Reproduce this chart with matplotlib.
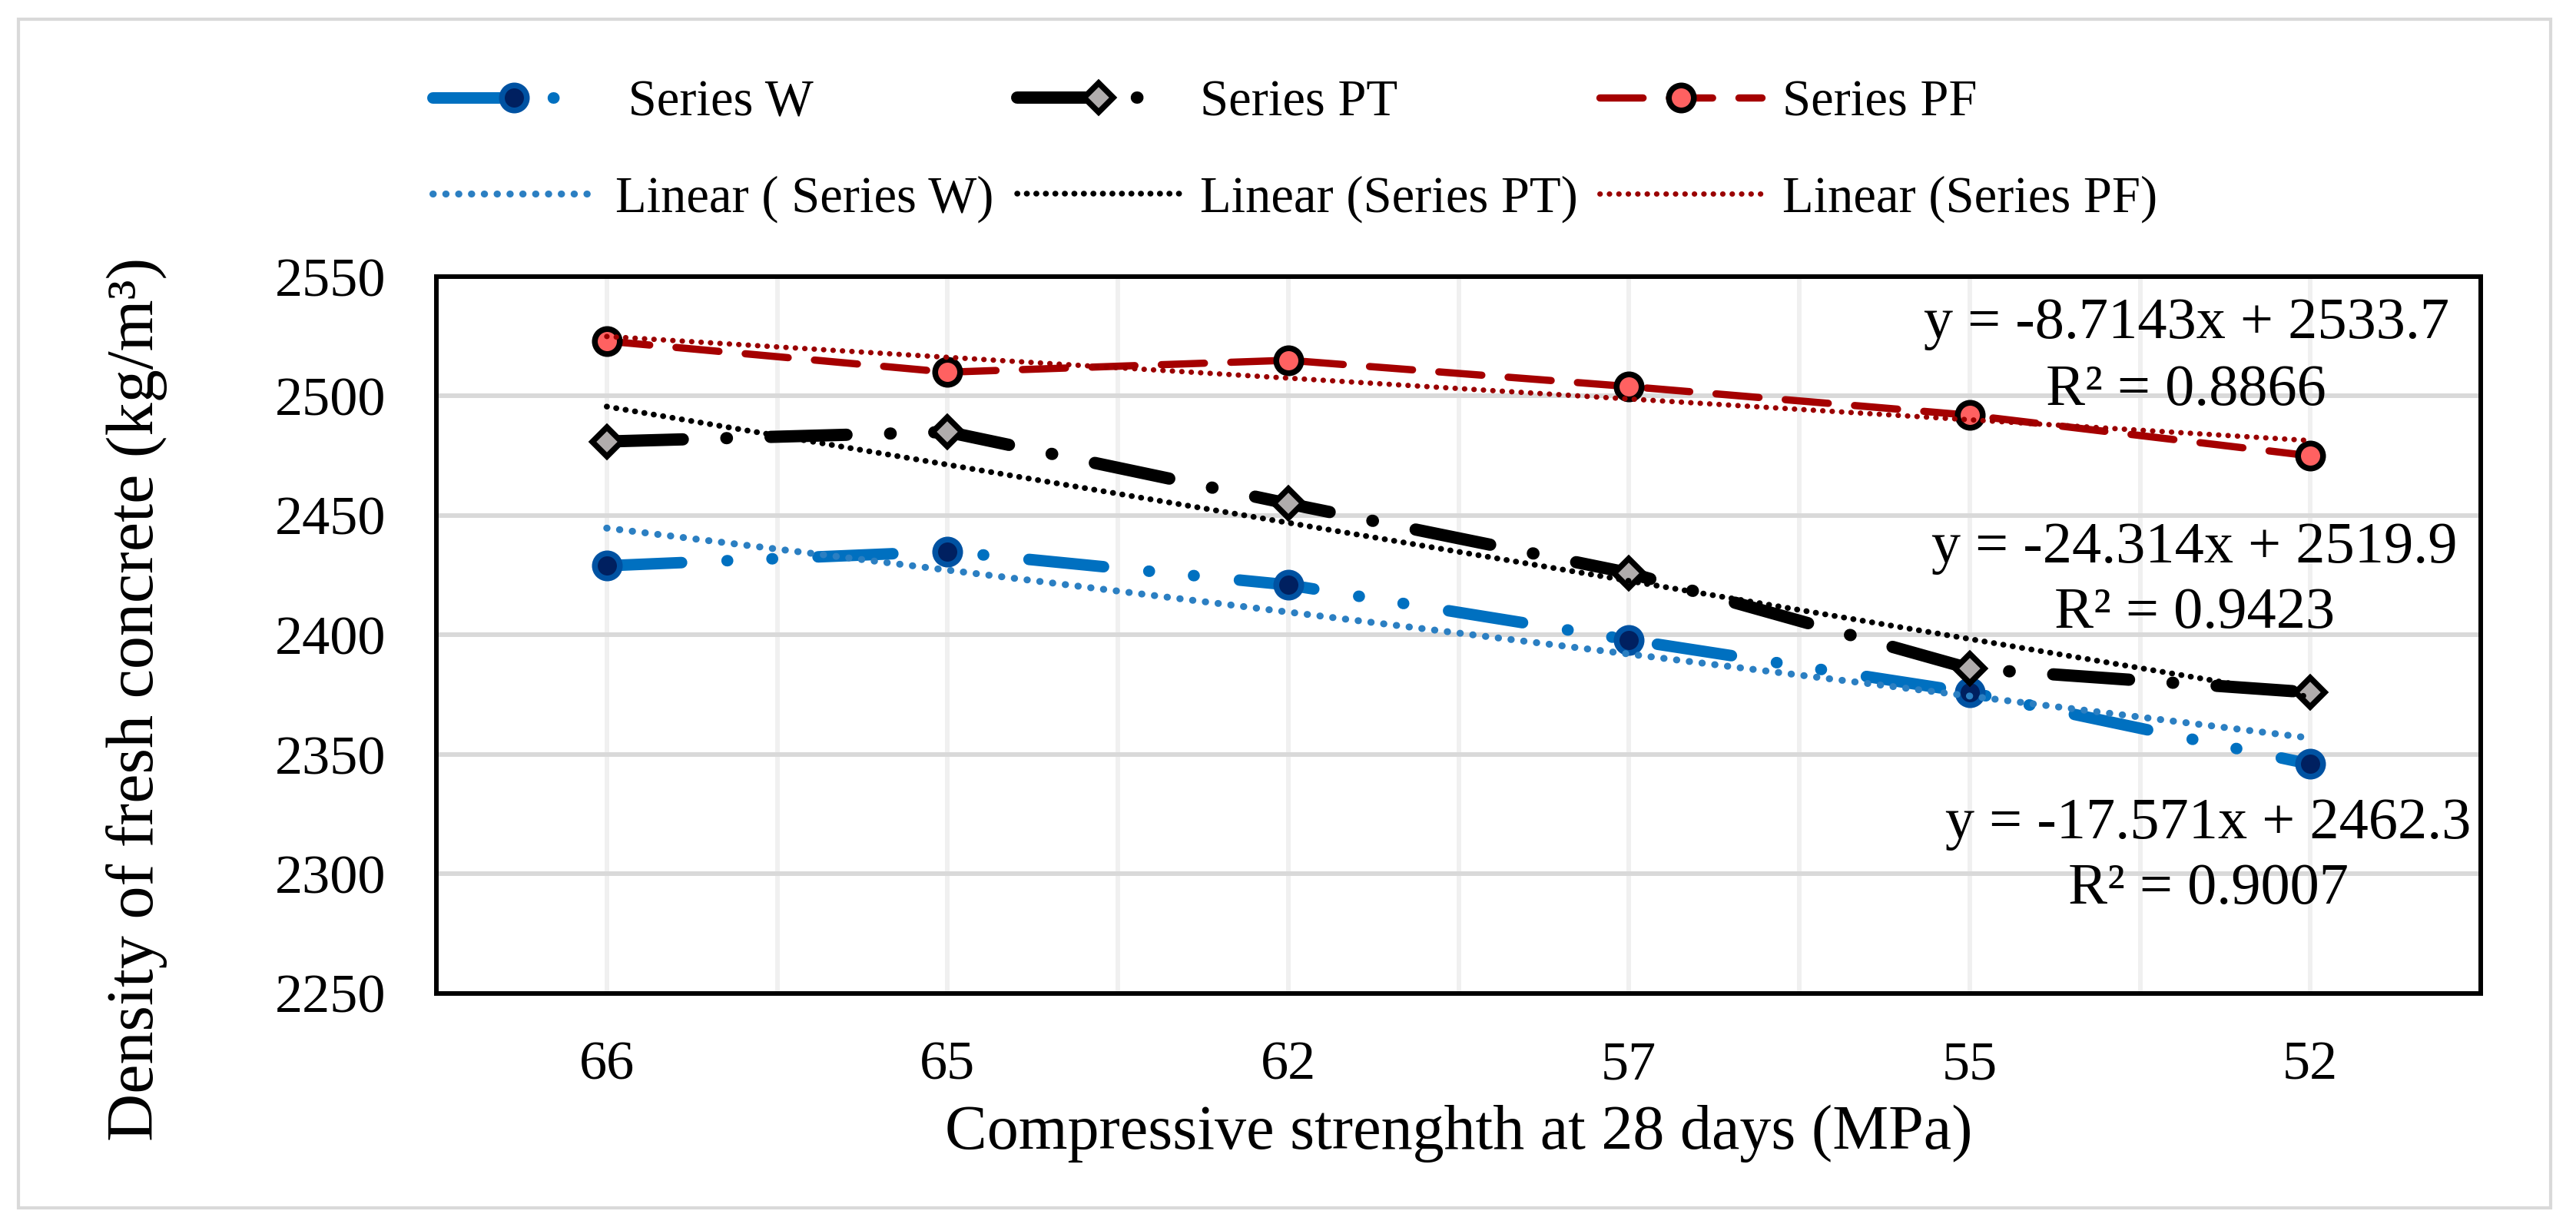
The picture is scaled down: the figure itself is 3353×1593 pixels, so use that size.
import numpy as np
import matplotlib
matplotlib.use("Agg")
import matplotlib.pyplot as plt
from matplotlib.patches import Rectangle

# ---------------- data ----------------
categories = ["66", "65", "62", "57", "55", "52"]
series_names = [" Series W", "Series PT", "Series PF"]
w_values = [2429, 2435, 2421, 2398, 2376, 2346]
pt_values = [2481, 2485, 2455, 2426, 2386, 2376]
pf_values = [2523, 2510, 2515, 2504, 2492, 2475]
eq_labels = ["y = -17.571x + 2462.3", "y = -24.314x + 2519.9", "y = -8.7143x + 2533.7"]
r2_labels = ["R\u00b2 = 0.9007", "R\u00b2 = 0.9423", "R\u00b2 = 0.8866"]
y_ticks = [2250, 2300, 2350, 2400, 2450, 2500, 2550]
x_label = "Compressive strenghth at 28 days (MPa)"
y_label = "Density of fresh concrete (kg/m\u00b3)"

# ---------------- style ----------------
plt.rcParams["font.family"] = ["Liberation Serif", "DejaVu Serif"]

W, H = 3353, 1593
fig = plt.figure(figsize=(W / 100, H / 100), dpi=100)
ax = fig.add_axes([568 / W, 1 - 1293 / H, (3229 - 568) / W, (1293 - 360) / H])

x = np.arange(len(categories))
xnum = x + 1

series_values = [w_values, pt_values, pf_values]
series_styles = [
    dict(color="#0070C0", lw=10.8, linestyle=(0, (6.5, 3.95, 0.05, 3.85, 0.05, 3.95)),
         marker="o", ms=23.4, mfc="#002060", mec="#0052A2", mew=5.4),
    dict(color="black", lw=11.5, linestyle=(0, (6.2, 3.55, 0.05, 3.55)),
         marker="D", ms=19, mfc="#B0ACAC", mec="black", mew=5.4),
    dict(color="#A50000", lw=6.8, linestyle=(0, (5.95, 3.63)),
         marker="o", ms=23.4, mfc="#FF6161", mec="black", mew=5.4),
]
trend_styles = [
    dict(color="#2B7FC2", lw=6.5, linestyle=(0, (0.05, 1.8))),
    dict(color="black", lw=5.4, linestyle=(0, (0.05, 1.6))),
    dict(color="#9A0000", lw=5.0, linestyle=(0, (0.05, 1.72))),
]

series_lines, trend_lines = [], []
for name, vals, st, tst in zip(series_names, series_values, series_styles, trend_styles):
    ln, = ax.plot(x, vals, dash_capstyle="round", solid_capstyle="round",
                  label=name, zorder=3, **st)
    coef = np.polyfit(xnum, vals, 1)
    tl, = ax.plot(x, np.polyval(coef, xnum), dash_capstyle="round",
                  label=f"Linear ({name})", zorder=4, **tst)
    series_lines.append(ln)
    trend_lines.append(tl)

ax.set_xlim(-0.5, len(categories) - 0.5)
ax.set_ylim(y_ticks[0], y_ticks[-1])
ax.set_yticks(y_ticks)
ax.set_xticks(x)
ax.set_xticklabels(categories)
ax.set_xticks(np.arange(0, len(categories) - 0.99, 0.5), minor=True)

ax.set_axisbelow(True)
ax.yaxis.grid(True, color="#D9D9D9", lw=4.3)
ax.xaxis.grid(True, which="both", color="#F0F0F0", lw=4.3)
for sp in ax.spines.values():
    sp.set_color("black")
    sp.set_linewidth(4.3)

ax.tick_params(axis="both", which="both", length=0)
ax.tick_params(axis="y", pad=47.5, labelsize=52)
ax.tick_params(axis="x", pad=44, labelsize=52)

ax.set_xlabel(x_label, fontsize=59)
ax.xaxis.set_label_coords(0.5, -0.155)
ax.set_ylabel(y_label, fontsize=62)
ax.yaxis.set_label_coords(-0.1315, 0.4105)

# trendline equations
eq_pos = [(4.70, 2315.0, 2287.6), (4.66, 2430.4, 2403.1), (4.636, 2524.3, 2496.3)]
for eq, r2, (xp, y1, y2) in zip(eq_labels, r2_labels, eq_pos):
    ax.text(xp, y1, eq, ha="center", va="baseline", fontsize=55, zorder=6)
    ax.text(xp, y2, r2, ha="center", va="baseline", fontsize=55, zorder=6)

# legend: three columns
col_x = [563 / W, 1324 / W, 2082 / W]
for sl, tl, cx in zip(series_lines, trend_lines, col_x):
    fig.legend(handles=[sl, tl], loc="center left", bbox_to_anchor=(cx, 1 - 196.5 / H),
               frameon=False, fontsize=48, handlelength=3.165, handletextpad=0.405,
               labelspacing=0.96, borderpad=0, borderaxespad=0, numpoints=1)

# outer grey frame
fig.add_artist(Rectangle((24 / W, 1 - 1572 / H), (3320 - 24) / W, (1572 - 25) / H,
                         transform=fig.transFigure, fill=False, ec="#D9D9D9", lw=3))

fig.savefig("out.png", dpi=100)
